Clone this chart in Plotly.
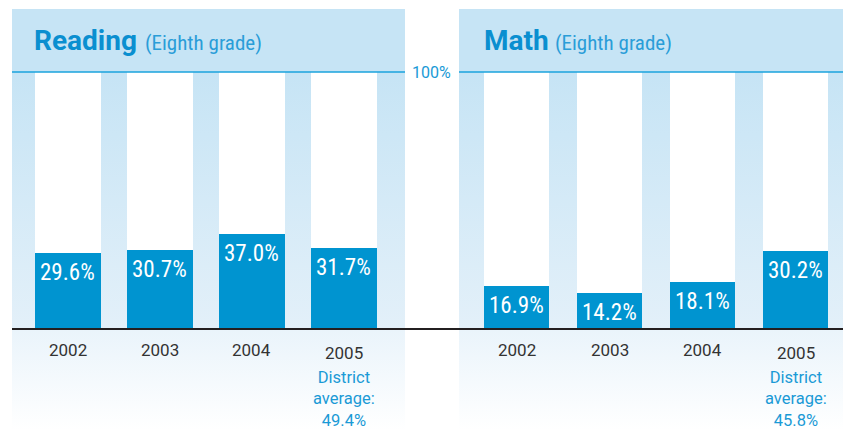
import plotly.graph_objects as go

# ---------------- data ----------------
years = ["2002", "2003", "2004", "2005"]
reading = [29.6, 30.7, 37.0, 31.7]
math = [16.9, 14.2, 18.1, 30.2]
reading_district = 49.4
math_district = 45.8
panel_titles = ["Reading", "Math"]
panel_sub = "(Eighth grade)"

# ---------------- geometry / style ----------------
W, H = 843, 430
BASE_PX, TOP_PX = 329.0, 72.0
SCALE = (BASE_PX - TOP_PX) / 100.0


def v(px):
    """pixel row -> value on the bar axes"""
    return (BASE_PX - px) / SCALE


BAR = "#0094d0"
HEAD = "#c6e4f5"
BLUE_TXT = "#1a9ad6"
TITLE_BLUE = "#0a8fd0"
NARROW = "Liberation Sans Narrow, Roboto Condensed, Roboto, sans-serif"
ROBOTO = "Roboto, sans-serif"

fig = go.Figure()

# background panels (pixel coordinate subplot x/y)
panels = [(12, 405), (459, 843)]
y0, y1 = 9, 430
p_head = (TOP_PX - y0) / (y1 - y0)
p_base = (BASE_PX - y0) / (y1 - y0)
cscale = [
    [0.0, HEAD],
    [p_head, HEAD],
    [p_base, "#e3f0f9"],
    [min(p_base + 0.003, 1), "#eaf4fb"],
    [1.0, "#ffffff"],
]
for xa, xb in panels:
    fig.add_trace(go.Scatter(
        x=[xa, xb, xb, xa, xa], y=[y0, y0, y1, y1, y0],
        mode="lines", line=dict(width=0), fill="toself",
        fillgradient=dict(type="vertical", colorscale=cscale, start=y0, stop=y1),
        hoverinfo="skip", showlegend=False, xaxis="x", yaxis="y"))

# bar subplots
series = [reading, math]
districts = [reading_district, math_district]
axes = [("x2", "y2"), ("x3", "y3")]
widths = [0.707, 0.699]
for vals, (xa, ya), w in zip(series, axes, widths):
    fig.add_trace(go.Bar(x=years, y=[100] * len(years), width=w,
                         marker=dict(color="#ffffff", line=dict(width=0)),
                         hoverinfo="skip", showlegend=False, xaxis=xa, yaxis=ya))
    fig.add_trace(go.Bar(x=years, y=vals, width=w,
                         marker=dict(color=BAR, line=dict(width=0)),
                         showlegend=False, xaxis=xa, yaxis=ya))

annotations = []
for vals, (xa, ya), dist in zip(series, axes, districts):
    for i, (yr, val) in enumerate(zip(years, vals)):
        annotations.append(dict(
            x=i, y=val, xref=xa, yref=ya, text=f"{val:.1f}%",
            showarrow=False, yanchor="top", yshift=-4,
            font=dict(family=NARROW, size=23, color="#ffffff")))
        annotations.append(dict(
            x=i, y=v(350 if i < len(years) - 1 else 353), xref=xa, yref=ya,
            text=yr, showarrow=False, yanchor="middle",
            font=dict(family=ROBOTO, size=17, color="#333333")))
    annotations.append(dict(
        x=len(years) - 1, y=v(366), xref=xa, yref=ya,
        text=f"District<br>average:<br>{dist:.1f}%",
        showarrow=False, yanchor="top", align="center",
        font=dict(family=ROBOTO, size=16.5, color=BLUE_TXT)))

# titles
for title, xpx, xsub in zip(panel_titles, [32, 482], [143, 553]):
    annotations.append(dict(
        x=xpx, y=40.5, xref="x", yref="y", xanchor="left", yanchor="middle",
        text=f"<b>{title}</b>", showarrow=False,
        font=dict(family=ROBOTO, size=28, color=TITLE_BLUE)))
    annotations.append(dict(
        x=xsub, y=42.8, xref="x", yref="y", xanchor="left", yanchor="middle",
        text=panel_sub, showarrow=False,
        font=dict(family=NARROW, size=21, color="#2a9dd8")))

annotations.append(dict(
    x=431, y=TOP_PX, xref="x", yref="y", text="100%", showarrow=False,
    xanchor="center", yanchor="middle",
    font=dict(family=ROBOTO, size=16, color=BLUE_TXT)))

shapes = [
    dict(type="line", xref="x", yref="y", x0=12, x1=405, y0=TOP_PX, y1=TOP_PX,
         line=dict(color="#1aa3dc", width=1.5), layer="above"),
    dict(type="line", xref="x", yref="y", x0=459, x1=843, y0=TOP_PX, y1=TOP_PX,
         line=dict(color="#1aa3dc", width=1.5), layer="above"),
    dict(type="line", xref="x", yref="y", x0=12, x1=843, y0=BASE_PX, y1=BASE_PX,
         line=dict(color="#231f20", width=2), layer="above"),
]

yr_range = [v(H), v(0)]
fig.update_layout(
    width=W, height=H, margin=dict(l=0, r=0, t=0, b=0),
    paper_bgcolor="#ffffff", plot_bgcolor="rgba(0,0,0,0)",
    barmode="overlay", bargap=0,
    xaxis=dict(domain=[0, 1], range=[0, W], visible=False, fixedrange=True),
    yaxis=dict(domain=[0, 1], range=[H, 0], visible=False, fixedrange=True),
    xaxis2=dict(domain=[21.5 / W, 389.5 / W], range=[-0.5, 3.5], type="category",
                visible=False, anchor="y2"),
    yaxis2=dict(domain=[0, 1], range=yr_range, visible=False, anchor="x2"),
    xaxis3=dict(domain=[470 / W, 842 / W], range=[-0.5, 3.5], type="category",
                visible=False, anchor="y3"),
    yaxis3=dict(domain=[0, 1], range=yr_range, visible=False, anchor="x3"),
    annotations=annotations, shapes=shapes,
)

fig.write_html("out.html", config={"displayModeBar": False},
               post_script="document.body.style.margin='0';")
